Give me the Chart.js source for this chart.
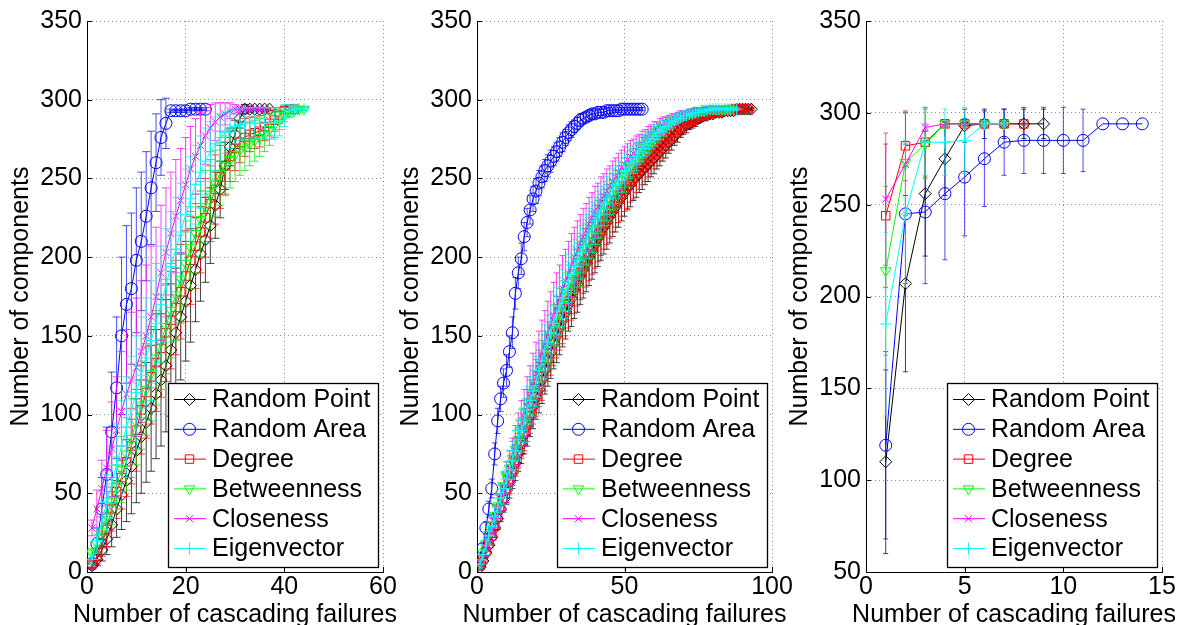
<!DOCTYPE html>
<html>
<head>
<meta charset="utf-8">
<script src="https://cdn.jsdelivr.net/npm/chart.js@4.4.1/dist/chart.umd.min.js"></script>
<style>
  html, body { margin: 0; padding: 0; background: #fff; }
  body { width: 1185px; height: 625px; position: relative; overflow: hidden; }
  .panel { position: absolute; top: 0; height: 625px; }
</style>
</head>
<body>
<div class="panel" style="left:0px;width:430px"><canvas id="c1"></canvas></div>
<div class="panel" style="left:390px;width:430px"><canvas id="c2"></canvas></div>
<div class="panel" style="left:779px;width:406px"><canvas id="c3"></canvas></div>
<script>
// series, in legend order
const seriesNames = ['Random Point', 'Random Area', 'Degree', 'Betweenness', 'Closeness', 'Eigenvector'];
const seriesColors = ['#000000', '#0000ff', '#ff0000', '#00ff00', '#ff00ff', '#00ffff'];
const barColors = ['rgba(0,0,0,0.75)', 'rgba(0,0,255,0.7)', 'rgba(255,0,0,0.75)', 'rgba(0,220,0,0.75)', 'rgba(255,0,255,0.75)', 'rgba(0,230,230,0.75)'];
const seriesMarkers = ['rectRot', 'circle', 'rect', 'triangle', 'crossRot', 'cross'];
const markerRotation = [0, 0, 0, 180, 0, 0];
const markerRadius = [6, 6, 6, 6, 5, 6];

const xTitle = 'Number of cascading failures';
const yTitle = 'Number of components';

// ---- panel 1 (x = 1, 2, 3 ...)
const p1RandomPoint = [4, 8, 14, 21, 30, 40, 49, 58, 67, 77, 86, 95, 104, 113, 122, 131, 141, 152, 162, 172, 182, 192, 202, 211, 220, 233, 243, 258, 270, 278, 288, 294, 294, 294, 294, 294, 294];
const p1RandomPointErr = [1, 4, 7, 10, 14, 18, 22, 26, 30, 33, 36, 38, 40, 41, 42, 42, 42, 41, 40, 38, 36, 33, 30, 27, 24, 21, 18, 15, 12, 9, 6, 3, 2, 1, 1, 1, 1];
const p1RandomArea = [5, 18, 40, 62, 89, 117, 150, 170, 180, 198, 210, 226, 244, 260, 276, 285, 293, 293, 293, 293, 294, 294, 294, 294];
const p1RandomAreaErr = [3, 10, 20, 30, 38, 45, 50, 50, 48, 46, 44, 41, 36, 31, 24, 16, 1, 1, 1, 1, 1, 1, 1, 1];
const p1Degree = [5, 10, 18, 27, 40, 51, 60, 70, 80, 90, 103, 114, 124, 133, 142, 152, 160, 168, 178, 188, 198, 207, 216, 225, 234, 243, 251, 258, 264, 269, 273, 276, 278, 279, 280, 283, 285, 287, 290, 293, 294, 294];
const p1DegreeErr = [2, 5, 8, 11, 14, 17, 20, 22, 24, 26, 28, 29, 30, 31, 31, 31, 31, 30, 30, 29, 28, 27, 26, 25, 24, 22, 20, 18, 16, 14, 13, 12, 11, 10, 10, 9, 8, 7, 5, 3, 1, 1];
const p1Betweenness = [12, 18, 26, 35, 45, 55, 65, 75, 85, 95, 106, 116, 126, 136, 146, 156, 166, 176, 186, 196, 206, 215, 224, 232, 240, 247, 253, 258, 262, 265, 268, 270, 272, 274, 276, 278, 281, 284, 287, 290, 292, 293, 294, 294];
const p1BetweennessErr = [3, 6, 9, 12, 15, 18, 21, 23, 25, 27, 28, 29, 30, 30, 30, 30, 30, 29, 28, 27, 26, 25, 24, 23, 22, 21, 20, 19, 18, 17, 16, 15, 14, 13, 12, 11, 10, 8, 6, 4, 3, 2, 1, 1];
const p1Closeness = [28, 40, 53, 66, 78, 90, 102, 113, 122, 130, 140, 150, 162, 175, 190, 203, 215, 226, 236, 246, 256, 264, 271, 277, 282, 286, 289, 291, 293, 294, 294, 294, 294, 294, 294, 294];
const p1ClosenessErr = [5, 12, 18, 24, 30, 34, 38, 41, 43, 44, 45, 45, 45, 44, 43, 41, 39, 36, 33, 30, 27, 24, 21, 18, 15, 12, 9, 7, 5, 3, 2, 1, 1, 1, 1, 1];
const p1Eigenvector = [8, 20, 32, 44, 56, 68, 80, 92, 103, 114, 125, 136, 147, 158, 170, 182, 194, 205, 216, 227, 237, 246, 254, 261, 267, 272, 276, 279, 281, 283, 284, 285, 285, 285, 285, 285, 285, 285, 286, 290, 293, 294, 294, 294];
const p1EigenvectorErr = [3, 8, 13, 18, 22, 26, 29, 32, 34, 36, 37, 38, 38, 38, 37, 36, 35, 33, 31, 29, 27, 25, 23, 21, 19, 17, 15, 13, 12, 11, 10, 10, 10, 10, 10, 10, 10, 10, 9, 7, 4, 2, 1, 1];

// ---- panel 2
const p2RandomPoint = [3, 7, 12, 17, 22, 28, 34, 40, 46, 52,
  57, 63, 69, 75, 81, 87, 93, 99, 105, 111,
  116, 122, 128, 134, 139, 145, 150, 155, 160, 165,
  170, 174, 179, 183, 188, 192, 196, 200, 204, 208,
  212, 215, 219, 222, 226, 229, 232, 235, 238, 241,
  244, 246, 249, 251, 253, 255, 257, 259, 261, 263,
  265, 267, 269, 271, 273, 275, 277, 279, 281, 283,
  284, 285, 286, 287, 288, 289, 290, 290, 291, 291,
  292, 292, 292, 293, 293, 293, 293, 294, 294, 294, 294, 294, 294];
const p2RandomPointErr = [1, 2, 3, 4, 5, 6, 7, 8, 8, 9,
  10, 10, 11, 11, 12, 12, 13, 13, 14, 14,
  15, 15, 15, 16, 16, 16, 17, 17, 17, 17,
  17, 18, 18, 18, 18, 18, 18, 18, 18, 18,
  18, 17, 17, 17, 17, 16, 16, 16, 15, 15,
  14, 14, 13, 13, 12, 12, 11, 11, 10, 10,
  9, 9, 8, 8, 7, 7, 6, 6, 5, 5,
  5, 4, 4, 4, 3, 3, 3, 2, 2, 2,
  2, 2, 1, 1, 1, 1, 1, 1, 1, 1, 1, 1, 1];
const p2RandomArea = [5, 15, 28, 40, 53, 75, 96, 110, 120, 128,
  140, 152, 177, 190, 199, 213, 222, 230, 237, 242,
  247, 251, 255, 258, 261, 264, 267, 270, 273, 276,
  279, 281, 283, 285, 287, 288, 289, 290, 291, 291,
  292, 292, 292, 293, 293, 293, 293, 293, 294, 294,
  294, 294, 294, 294, 294, 294];
const p2RandomAreaErr = [2, 3, 4, 5, 6, 7, 8, 8, 9, 10,
  10, 10, 10, 10, 10, 9, 9, 9, 8, 8,
  8, 7, 7, 7, 7, 6, 6, 6, 6, 5,
  5, 5, 4, 4, 4, 3, 3, 3, 3, 2,
  2, 2, 2, 2, 2, 1, 1, 1, 1, 1,
  1, 1, 1, 1, 1, 1];
const p2Degree = [4, 8, 13, 18, 23, 29, 35, 41, 47, 53,
  59, 65, 71, 77, 83, 89, 95, 101, 107, 113,
  119, 124, 130, 136, 141, 147, 152, 157, 162, 167,
  172, 177, 181, 186, 190, 194, 198, 202, 206, 210,
  214, 217, 221, 224, 228, 231, 234, 237, 240, 243,
  245, 248, 250, 253, 255, 257, 259, 261, 263, 265,
  267, 269, 271, 273, 275, 277, 279, 281, 282, 284,
  285, 286, 287, 288, 289, 290, 290, 291, 291, 292,
  292, 292, 293, 293, 293, 293, 294, 294, 294, 294, 294, 294];
const p2DegreeErr = [1, 2, 3, 4, 5, 6, 7, 7, 8, 9,
  9, 10, 10, 11, 11, 12, 12, 13, 13, 14,
  14, 15, 15, 15, 16, 16, 16, 16, 17, 17,
  17, 17, 17, 17, 17, 17, 17, 17, 17, 17,
  17, 16, 16, 16, 16, 15, 15, 15, 14, 14,
  14, 13, 13, 12, 12, 11, 11, 10, 10, 9,
  9, 8, 8, 7, 7, 6, 6, 5, 5, 5,
  4, 4, 4, 3, 3, 3, 3, 2, 2, 2,
  2, 2, 1, 1, 1, 1, 1, 1, 1, 1, 1, 1];
const p2Betweenness = [6, 12, 18, 24, 30, 36, 42, 48, 54, 60,
  66, 72, 78, 84, 90, 96, 102, 108, 114, 120,
  126, 132, 137, 143, 148, 154, 159, 164, 169, 174,
  179, 184, 189, 193, 197, 202, 206, 210, 214, 218,
  222, 226, 229, 233, 236, 240, 243, 246, 249, 252,
  255, 258, 260, 263, 265, 268, 270, 272, 274, 276,
  278, 280, 282, 283, 285, 286, 287, 288, 289, 290,
  291, 291, 292, 292, 293, 293, 293, 294, 294, 294,
  294, 294, 294, 294, 294, 294];
const p2BetweennessErr = [2, 3, 4, 5, 6, 7, 8, 9, 10, 10,
  11, 11, 12, 12, 13, 13, 14, 14, 14, 15,
  15, 15, 16, 16, 16, 16, 16, 16, 16, 16,
  16, 16, 16, 16, 16, 16, 15, 15, 15, 15,
  14, 14, 14, 13, 13, 13, 12, 12, 11, 11,
  10, 10, 9, 9, 8, 8, 7, 7, 6, 6,
  5, 5, 5, 4, 4, 4, 3, 3, 3, 3,
  2, 2, 2, 2, 2, 1, 1, 1, 1, 1,
  1, 1, 1, 1, 1, 1];
const p2Closeness = [5, 10, 15, 21, 27, 33, 39, 45, 51, 57,
  63, 70, 77, 84, 91, 98, 105, 112, 119, 126,
  132, 139, 145, 151, 157, 163, 169, 174, 180, 185,
  190, 195, 200, 204, 209, 213, 217, 221, 225, 229,
  232, 236, 239, 242, 245, 248, 251, 254, 257, 259,
  262, 264, 266, 268, 270, 272, 274, 276, 278, 280,
  281, 283, 284, 285, 286, 287, 288, 289, 290, 291,
  291, 292, 292, 293, 293, 293, 294, 294, 294, 294,
  294, 294, 294, 294];
const p2ClosenessErr = [2, 3, 5, 6, 7, 9, 10, 11, 12, 13,
  14, 15, 16, 17, 18, 18, 19, 19, 20, 20,
  21, 21, 21, 21, 21, 21, 21, 21, 21, 20,
  20, 20, 19, 19, 18, 18, 17, 17, 16, 16,
  15, 15, 14, 14, 13, 13, 12, 12, 11, 11,
  10, 10, 9, 9, 8, 8, 7, 7, 6, 6,
  5, 5, 5, 4, 4, 4, 3, 3, 3, 2,
  2, 2, 2, 2, 1, 1, 1, 1, 1, 1,
  1, 1, 1, 1];
const p2Eigenvector = [5, 11, 17, 23, 29, 35, 41, 47, 53, 59,
  65, 71, 77, 84, 90, 96, 103, 109, 115, 121,
  128, 134, 140, 146, 152, 158, 163, 169, 174, 179,
  184, 189, 194, 198, 203, 207, 211, 215, 219, 223,
  227, 230, 234, 237, 240, 243, 246, 249, 252, 255,
  257, 260, 262, 264, 267, 269, 271, 273, 275, 277,
  279, 280, 282, 283, 285, 286, 287, 288, 289, 290,
  290, 291, 291, 292, 292, 293, 293, 293, 294, 294,
  294, 294, 294, 294, 294, 294, 294, 294];
const p2EigenvectorErr = [2, 3, 4, 5, 6, 7, 8, 9, 10, 11,
  12, 12, 13, 13, 14, 14, 15, 15, 16, 16,
  17, 17, 17, 17, 17, 18, 18, 18, 18, 18,
  18, 18, 17, 17, 17, 17, 16, 16, 16, 15,
  15, 15, 14, 14, 13, 13, 12, 12, 11, 11,
  10, 10, 9, 9, 8, 8, 7, 7, 6, 6,
  5, 5, 5, 4, 4, 4, 3, 3, 3, 3,
  2, 2, 2, 2, 2, 1, 1, 1, 1, 1,
  1, 1, 1, 1, 1, 1, 1, 1];

// ---- panel 3
const p3RandomPoint = [110, 207, 256, 275, 293, 294, 294, 294, 294];
const p3RandomPointErr = [50, 48, 34, 20, 9, 8, 8, 8, 8];
const p3RandomArea = [119, 245, 246, 256, 265, 275, 284, 285, 285, 285, 285, 294, 294, 294];
const p3RandomAreaErr = [51, 38, 39, 36, 32, 26, 18, 18, 18, 18, 17, 0, 0, 0];
const p3Degree = [244, 282, 284, 294, 294, 294, 294, 294];
const p3DegreeErr = [39, 19, 19, 1, 1, 1, 1, 1];
const p3Betweenness = [214, 273, 283, 294, 294, 294, 294];
const p3BetweennessErr = [46, 27, 19, 1, 1, 1, 1];
const p3Closeness = [253, 272, 292, 294, 294, 294, 294];
const p3ClosenessErr = [36, 28, 2, 1, 1, 1, 1];
const p3Eigenvector = [185, 245, 284, 284, 285, 294, 294];
const p3EigenvectorErr = [50, 40, 18, 18, 18, 1, 1];

const FONT = '"Liberation Sans", Arial, Helvetica, sans-serif';
Chart.defaults.font.family = FONT;
Chart.defaults.font.size = 25;
Chart.defaults.color = '#000';

function makeDatasets(values, errors) {
  return values.map((vals, i) => ({
    label: seriesNames[i],
    data: vals.map((v, k) => ({ x: k + 1, y: v })),
    errors: errors[i],
    errorColor: barColors[i],
    borderColor: seriesColors[i],
    backgroundColor: 'rgba(0,0,0,0)',
    pointBackgroundColor: 'rgba(0,0,0,0)',
    pointBorderColor: seriesColors[i],
    pointStyle: seriesMarkers[i],
    pointRotation: markerRotation[i],
    pointRadius: markerRadius[i],
    pointBorderWidth: 1,
    borderWidth: 1,
    tension: 0,
    order: values.length - i
  }));
}

// vertical error bars, drawn just under each series line
const errorBars = {
  id: 'errorBars',
  beforeDatasetDraw(chart, args, opts) {
    const ds = chart.data.datasets[args.index];
    const { ctx, chartArea: a } = chart;
    const xs = chart.scales.x, ys = chart.scales.y;
    const cap = opts.cap || 3;
    ctx.save();
    ctx.beginPath();
    ctx.rect(a.left, a.top, a.right - a.left, a.bottom - a.top);
    ctx.clip();
    ctx.strokeStyle = ds.errorColor;
    ctx.lineWidth = 1;
    ctx.beginPath();
    ds.data.forEach((p, k) => {
      const e = ds.errors[k];
      if (!e) return;
      const x = xs.getPixelForValue(p.x);
      const y1 = ys.getPixelForValue(p.y + e);
      const y2 = ys.getPixelForValue(p.y - e);
      ctx.moveTo(x, y1); ctx.lineTo(x, y2);
      ctx.moveTo(x - cap, y1); ctx.lineTo(x + cap, y1);
      ctx.moveTo(x - cap, y2); ctx.lineTo(x + cap, y2);
    });
    ctx.stroke();
    ctx.restore();
  }
};

// inward tick marks (matlab style)
const inwardTicks = {
  id: 'inwardTicks',
  afterDraw(chart) {
    const { ctx, chartArea: a, scales } = chart;
    ctx.save();
    ctx.strokeStyle = '#000';
    ctx.lineWidth = 1;
    ctx.beginPath();
    scales.x.ticks.forEach(t => {
      const px = Math.round(scales.x.getPixelForValue(t.value)) + 0.5;
      ctx.moveTo(px, a.bottom); ctx.lineTo(px, a.bottom - 5);
    });
    scales.y.ticks.forEach(t => {
      const py = Math.round(scales.y.getPixelForValue(t.value)) + 0.5;
      ctx.moveTo(a.left, py); ctx.lineTo(a.left + 5, py);
    });
    ctx.stroke();
    ctx.restore();
  }
};

// axis titles, drawn by hand so the long x title is not squeezed
const axisTitles = {
  id: 'axisTitles',
  afterDraw(chart) {
    const { ctx, chartArea: a } = chart;
    ctx.save();
    ctx.fillStyle = '#000';
    ctx.font = '25px ' + FONT;
    ctx.textAlign = 'center';
    ctx.textBaseline = 'alphabetic';
    ctx.fillText(xTitle, (a.left + a.right) / 2, 622);
    ctx.translate(a.left - 59, (a.top + a.bottom) / 2);
    ctx.rotate(-Math.PI / 2);
    ctx.fillText(yTitle, 0, 0);
    ctx.restore();
  }
};

// boxed legend in the lower right corner
const boxLegend = {
  id: 'boxLegend',
  afterDraw(chart) {
    const { ctx, chartArea: a } = chart;
    const w = 210, h = 184;
    const right = Math.round(a.right) - 5, bottom = Math.round(a.bottom) - 5;
    const left = right - w, top = bottom - h;
    ctx.save();
    ctx.fillStyle = '#fff';
    ctx.fillRect(left, top, w, h);
    ctx.strokeStyle = '#000';
    ctx.lineWidth = 1.3;
    ctx.strokeRect(left + 0.5, top + 0.5, w, h);
    chart.data.datasets.forEach((ds, i) => {
      const y = top + 16.5 + i * 29.8;
      ctx.strokeStyle = ds.borderColor;
      ctx.lineWidth = 1;
      ctx.beginPath();
      ctx.moveTo(left + 6, y); ctx.lineTo(left + 38, y);
      ctx.stroke();
      ctx.fillStyle = 'rgba(0,0,0,0)';
      Chart.helpers.drawPoint(ctx, {
        pointStyle: ds.pointStyle, rotation: ds.pointRotation,
        radius: ds.pointRadius, borderWidth: 1
      }, left + 21.5, y);
      ctx.fillStyle = '#000';
      ctx.font = '25px ' + FONT;
      ctx.textBaseline = 'middle';
      ctx.textAlign = 'left';
      ctx.fillText(ds.label, left + 44, y + 1);
    });
    ctx.restore();
  }
};

function makeChart(id, values, errors, xMax, xStep, yMin, rightPad, cap) {
  const tickFont = { size: 25, family: FONT };
  new Chart(document.getElementById(id), {
    type: 'line',
    data: { datasets: makeDatasets(values, errors) },
    options: {
      responsive: true,
      maintainAspectRatio: false,
      animation: false,
      devicePixelRatio: 1,
      layout: { padding: { top: 21, right: rightPad, left: 0, bottom: 0 } },
      plugins: {
        legend: { display: false },
        tooltip: { enabled: false },
        errorBars: { cap: cap }
      },
      scales: {
        x: {
          type: 'linear', min: 0, max: xMax,
          ticks: { stepSize: xStep, font: tickFont, color: '#000', padding: 0, maxRotation: 0, autoSkip: false },
          grid: { color: '#8a8a8a', drawTicks: false, lineWidth: 1 },
          border: { display: true, color: '#000', width: 1, dash: [1, 3] },
          afterFit(s) { s.height = 53; }
        },
        y: {
          type: 'linear', min: yMin, max: 350,
          ticks: { stepSize: 50, font: tickFont, color: '#000', padding: 5, autoSkip: false },
          grid: { color: '#8a8a8a', drawTicks: false, lineWidth: 1 },
          border: { display: true, color: '#000', width: 1, dash: [1, 3] },
          afterFit(s) { s.width = 87; }
        }
      }
    },
    plugins: [errorBars, inwardTicks, axisTitles, boxLegend]
  });
}

makeChart('c1',
  [p1RandomPoint, p1RandomArea, p1Degree, p1Betweenness, p1Closeness, p1Eigenvector],
  [p1RandomPointErr, p1RandomAreaErr, p1DegreeErr, p1BetweennessErr, p1ClosenessErr, p1EigenvectorErr],
  60, 20, 0, 47, 4);
makeChart('c2',
  [p2RandomPoint, p2RandomArea, p2Degree, p2Betweenness, p2Closeness, p2Eigenvector],
  [p2RandomPointErr, p2RandomAreaErr, p2DegreeErr, p2BetweennessErr, p2ClosenessErr, p2EigenvectorErr],
  100, 50, 0, 48, 3);
makeChart('c3',
  [p3RandomPoint, p3RandomArea, p3Degree, p3Betweenness, p3Closeness, p3Eigenvector],
  [p3RandomPointErr, p3RandomAreaErr, p3DegreeErr, p3BetweennessErr, p3ClosenessErr, p3EigenvectorErr],
  15, 5, 50, 23, 2.5);
</script>
</body>
</html>
